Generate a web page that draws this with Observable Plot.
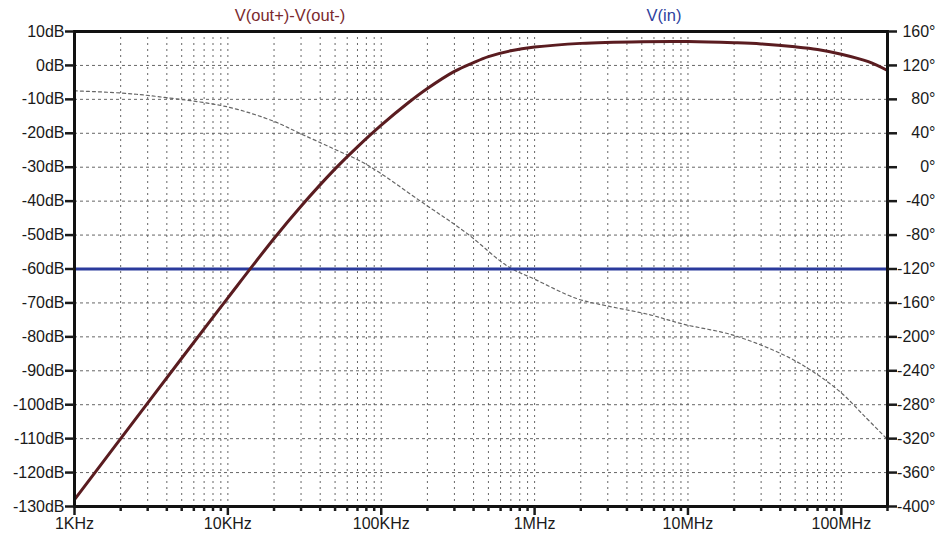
<!DOCTYPE html>
<html>
<head>
<meta charset="utf-8">
<script src="https://cdn.jsdelivr.net/npm/d3@7"></script>
<script src="https://cdn.jsdelivr.net/npm/@observablehq/plot@0.6"></script>
<style>
  body { margin: 0; background: #fff; }
  #wrap { position: relative; width: 938px; height: 533px; font-family: "Liberation Sans", Arial, sans-serif; }
  #wrap svg { position: absolute; left: 0; top: 0; }
  .trace-title { position: absolute; top: 6px; font-size: 16.5px; transform: translateX(-50%); white-space: nowrap; }
</style>
</head>
<body>
<div id="wrap">
  <div class="trace-title" style="left:290px;color:#7a2a2e">V(out+)-V(out-)</div>
  <div class="trace-title" style="left:664px;color:#2e3f9e">V(in)</div>
</div>
<script>
// AC sweep: gain of V(out+)-V(out-) in dB
const magFreq = [1e3, 2e3, 5e3, 1e4, 2e4, 3e4, 5e4, 7e4, 1e5, 1.5e5, 2e5, 3e5, 4e5, 5e5, 7e5, 1e6, 2e6, 5e6, 1e7, 2e7, 3e7, 5e7, 7e7, 1e8, 1.5e8, 2e8];
const magDb   = [-128, -110, -86.3, -68.5, -51, -41.5, -30.5, -24, -17.6, -11, -6.8, -1.75, 0.85, 2.6, 4.3, 5.4, 6.5, 7.0, 7.05, 6.7, 6.35, 5.5, 4.7, 3.3, 1.1, -1.5];

// Phase of the same trace, in degrees (right axis)
const phaseFreq = [1e3, 2e3, 3.6e3, 1e4, 2e4, 2.94e4, 5e4, 8.05e4, 1.87e5, 3.62e5, 6.7e5, 1e6, 1.89e6, 2.88e6, 5.66e6, 9.3e6, 1.97e7, 4.18e7, 6.28e7, 9.85e7, 1.39e8, 2e8];
const phaseDeg  = [90, 87.5, 83, 71, 54, 40, 21, 3, -42, -78, -117, -132, -155, -163, -174, -185, -198, -221, -239, -265, -292, -321];

// V(in) level in dB
const vinDb = [-60];

// Axis ticks
const freqTicks  = [1e3, 1e4, 1e5, 1e6, 1e7, 1e8];
const freqLabels = ["1KHz", "10KHz", "100KHz", "1MHz", "10MHz", "100MHz"];
const dbTicks    = [10, 0, -10, -20, -30, -40, -50, -60, -70, -80, -90, -100, -110, -120, -130];
const degTicks   = [160, 120, 80, 40, 0, -40, -80, -120, -160, -200, -240, -280, -320, -360, -400];

const fMin = 1e3, fMax = 2e8;

// Right axis shares the dB scale: 10 dB per 40 degrees, 0 dB <-> 120 degrees
const degToDb = d => (d - 120) / 4;

const minorFreq = [];
for (const dec of freqTicks) for (let k = 2; k <= 9; k++) if (dec * k <= fMax) minorFreq.push(dec * k);
const gridFreq = freqTicks.concat(minorFreq).filter(f => f > fMin);

const mag = magFreq.map((f, i) => ({f, db: magDb[i]}));
const phase = phaseFreq.map((f, i) => ({f, deg: phaseDeg[i]}));
const freqLabel = f => freqLabels[freqTicks.indexOf(f)];
const noLabel = () => "";

const font = "Liberation Sans, Arial, sans-serif";

const chart = Plot.plot({
  width: 938,
  height: 533,
  marginTop: 31,
  marginBottom: 27,
  marginLeft: 74,
  marginRight: 51,
  style: {fontFamily: font, fontSize: "16px", color: "#1a1a1a", background: "transparent"},
  x: {type: "log", domain: [fMin, fMax], axis: null},
  y: {domain: [-130, 10], axis: null},
  marks: [
    Plot.gridX({ticks: gridFreq, stroke: "#555", strokeOpacity: 0.9, strokeDasharray: "2,4", strokeWidth: 1}),
    Plot.gridY({ticks: dbTicks, stroke: "#555", strokeOpacity: 0.9, strokeDasharray: "3,3", strokeWidth: 1}),
    Plot.line(phase, {x: "f", y: d => degToDb(d.deg), stroke: "#666", strokeWidth: 1.2, strokeDasharray: "3,3", curve: "catmull-rom"}),
    Plot.ruleY(vinDb, {stroke: "#2a3a9c", strokeWidth: 3}),
    Plot.line(mag, {x: "f", y: "db", stroke: "#5a1c20", strokeWidth: 3, curve: "catmull-rom"}),
    Plot.frame({stroke: "#111", strokeWidth: 3}),
    // left: dB axis
    Plot.axisY({ticks: dbTicks, tickFormat: d => d + "dB", tickSize: 9, tickPadding: 1, strokeWidth: 2.5, fontSize: 16, label: null}),
    // right: degree axis, labels right-aligned at the page edge
    Plot.axisY({anchor: "right", ticks: degTicks.map(degToDb), tickFormat: noLabel, tickSize: 9, strokeWidth: 2.5, label: null}),
    Plot.text(degTicks, {y: d => degToDb(d), text: d => d + "°", frameAnchor: "right", textAnchor: "end", dx: 48, fontSize: 16, fill: "#1a1a1a"}),
    // bottom: frequency axis
    Plot.axisX({ticks: minorFreq, tickFormat: noLabel, tickSize: 5, strokeWidth: 2.5, label: null}),
    Plot.axisX({ticks: freqTicks, tickFormat: freqLabel, tickSize: 9, tickPadding: 2, strokeWidth: 2.5, fontSize: 16, label: null})
  ]
});

document.getElementById("wrap").prepend(chart);
</script>
</body>
</html>
